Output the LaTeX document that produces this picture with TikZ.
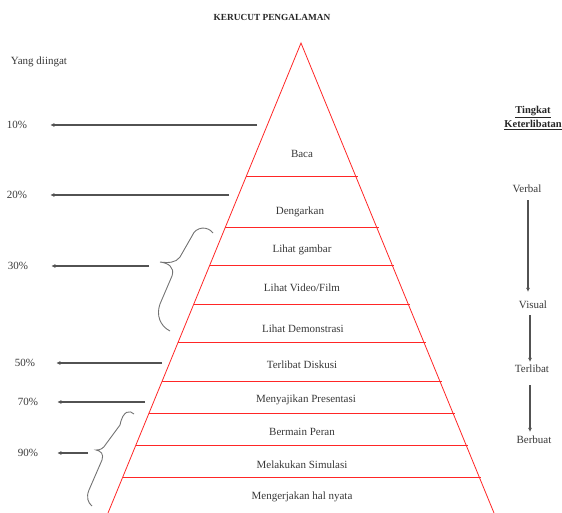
\documentclass[tikz,border=0pt]{standalone}
\usepackage{fontspec}
\setmainfont{Liberation Serif}
\usepackage{tikz}
\usetikzlibrary{positioning, arrows.meta, calc}

\begin{document}
\begin{tikzpicture}[x=1pt, y=-1pt,
  lbl/.style={font=\fontsize{11}{13}\selectfont, text=black!78, inner sep=2pt},
  head/.style={lbl, font=\bfseries\fontsize{10.5}{12}\selectfont, text=black!85},
  arr/.style={draw=black!68, line width=1.1pt, -{Latex[length=4pt,width=4pt]}},
  brc/.style={draw=black!55, line width=0.9pt},
  cone/.style={draw=red!85!white, line width=0.8pt}]
\useasboundingbox (0,0) rectangle (562,513);

% the cone
\coordinate (T) at (301,43);
\coordinate (BL) at (108,513);
\coordinate (BR) at (494,513);
\draw[cone] (BL) -- (T) -- (BR);

% layer borders
\foreach \y [count=\i] in {176,227,265,304,342,381,413,445,477} {
  \coordinate (L\i) at ($(T)!{(\y-43)/470}!(BL)$);
  \coordinate (R\i) at ($(T)!{(\y-43)/470}!(BR)$);
  \draw[cone] (L\i) -- ([xshift=2pt]R\i);
}

% layers
\node[lbl] (baca) at (302,154) {Baca};
\node[lbl] (dengar) at (300,212) {Dengarkan};
\node[lbl] (gambar) at (302,250) {Lihat gambar};
\node[lbl] (video) at (302,288) {Lihat Video/Film};
\node[lbl] (demo) at (303,329) {Lihat Demonstrasi};
\node[lbl] (diskusi) at (302,365) {Terlibat Diskusi};
\node[lbl] (presentasi) at (306,400) {Menyajikan Presentasi};
\node[lbl] (peran) at (302,432) {Bermain Peran};
\node[lbl] (simulasi) at (302,465) {Melakukan Simulasi};
\node[lbl] (nyata) at (302,497) {Mengerjakan hal nyata};

\node[head, font=\bfseries\fontsize{9.3}{11}\selectfont] (judul) at (272,17) {KERUCUT PENGALAMAN};
\node[lbl] (ingat) at (39,62) {Yang diingat};

% what is remembered
\node[lbl] (p10) at (17,125) {10\%};
\node[lbl] (p20) at (17,195) {20\%};
\node[lbl] (p30) at (18,266) {30\%};
\node[lbl] (p50) at (25,363) {50\%};
\node[lbl] (p70) at (28,402) {70\%};
\node[lbl] (p90) at (28,453) {90\%};

\coordinate (s10) at (257,125);
\coordinate (s20) at (229,195);
\coordinate (s30) at (149,266);
\coordinate (s50) at (162,363);
\coordinate (s70) at (145,402);
\coordinate (s90) at (88,453);

\draw[arr, shorten >=21pt] (s10) -- (p10);
\draw[arr, shorten >=21pt] (s20) -- (p20);
\draw[arr, shorten >=21pt] (s30) -- (p30);
\draw[arr, shorten >=19pt] (s50) -- (p50);
\draw[arr, shorten >=17pt] (s70) -- (p70);
\draw[arr, shorten >=17pt] (s90) -- (p90);

% braces
\draw[brc] (213,233) .. controls (208,226) and (196,226) .. (192,236) -- (180,257)
  .. controls (176,263) and (168,263) .. (160,262)
  .. controls (168,263) and (175,267) .. (172,276) -- (160,304)
  .. controls (156,315) and (160,326) .. (170,331);
\draw[brc] (134,414) .. controls (130,410) and (123,410) .. (120,425) -- (106,444)
  .. controls (103,449) and (100,450) .. (96,450)
  .. controls (101,451) and (104,454) .. (102,460) -- (89,490)
  .. controls (86,497) and (88,503) .. (92,506);

% level of involvement
\node[head] (tingkat) at (533,112) {\underline{Tingkat}};
\node[head] (libat) at (533,125) {\underline{Keterlibatan}};
\node[lbl] (verbal) at (527,189) {Verbal};
\node[lbl] (visual) at (533,305) {Visual};
\node[lbl] (terlibat) at (532,369) {Terlibat};
\node[lbl] (berbuat) at (534,440) {Berbuat};

\draw[arr, shorten <=5pt, shorten >=7pt] ([xshift=1pt]verbal.south) -- ([xshift=1pt]verbal.south |- visual.north);
\draw[arr, shorten <=4pt, shorten >=1pt] ([xshift=-3pt]visual.south) -- ([xshift=-3pt]visual.south |- terlibat.north);
\draw[arr, shorten <=10pt, shorten >=2pt] ([xshift=-2pt]terlibat.south) -- ([xshift=-2pt]terlibat.south |- berbuat.north);
\end{tikzpicture}
\end{document}
